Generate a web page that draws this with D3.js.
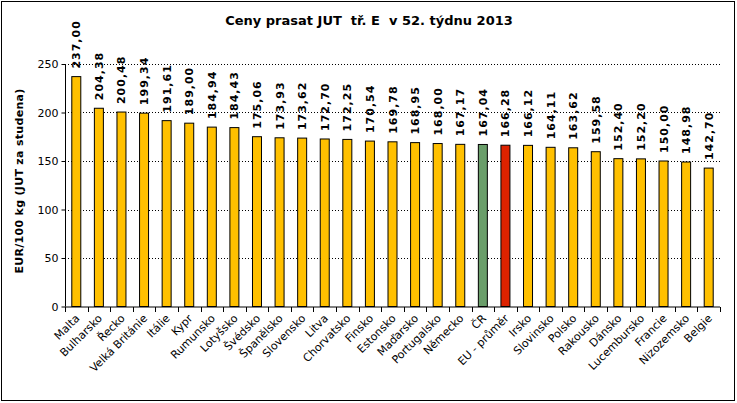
<!DOCTYPE html>
<html><head><meta charset="utf-8">
<script src="https://cdn.jsdelivr.net/npm/d3@7"></script>
<style>body{margin:0;background:#fff}svg{display:block}</style>
</head><body>
<svg id="c" width="737" height="403"></svg>
<script>
const categories = ["Malta","Bulharsko","Řecko","Velká Británie","Itálie","Kypr","Rumunsko","Lotyšsko","Švédsko","Španělsko","Slovensko","Litva","Chorvatsko","Finsko","Estonsko","Maďarsko","Portugalsko","Německo","ČR","EU - průměr","Irsko","Slovinsko","Polsko","Rakousko","Dánsko","Lucembursko","Francie","Nizozemsko","Belgie"];
const values = [237.00,204.38,200.48,199.34,191.61,189.00,184.94,184.43,175.06,173.93,173.62,172.70,172.25,170.54,169.78,168.95,168.00,167.17,167.04,166.28,166.12,164.11,163.62,159.58,152.40,152.20,150.00,148.98,142.70];
const yTicks = [0,50,100,150,200,250];
const title = "Ceny prasat JUT  tř. E  v 52. týdnu 2013";
const yLabel = "EUR/100 kg (JUT za studena)";

(function(){
const svg = d3.select("#c");
const font = "Verdana, 'DejaVu Sans', sans-serif";
svg.append("rect").attr("x",1.5).attr("y",1.5).attr("width",733).attr("height",399).attr("fill","#fff").attr("stroke","#000").attr("stroke-width",1);

const pL = 65, pR = 720, pT = 64, pB = 306.5;
const x = d3.scaleBand().domain(categories).range([pL,pR]).paddingInner(0).paddingOuter(0);
const y = d3.scaleLinear().domain([0,250]).range([pB,pT]);

svg.append("g").selectAll("line").data(yTicks.filter(d=>d>0)).join("line")
  .attr("x1",pL).attr("x2",pR).attr("y1",d=>Math.round(y(d))+0.5).attr("y2",d=>Math.round(y(d))+0.5)
  .attr("stroke","#000").attr("stroke-dasharray","1,2");

const colorOf = c => c==="ČR" ? "#6a9e6a" : (c==="EU - průměr" ? "#dd2200" : "#ffc000");
const bw = 9;
svg.append("g").selectAll("rect").data(categories).join("rect")
  .attr("x",(d)=>x(d)+x.bandwidth()/2-bw/2)
  .attr("y",(d,i)=>y(values[i]))
  .attr("width",bw)
  .attr("height",(d,i)=>pB-y(values[i]))
  .attr("fill",colorOf).attr("stroke","#000").attr("stroke-width",1);

svg.append("g").selectAll("text").data(categories).join("text")
  .attr("transform",(d,i)=>`translate(${x(d)+x.bandwidth()/2+4},${y(values[i])-8}) rotate(-90)`)
  .attr("font-family",font).attr("font-size",11).attr("font-weight","bold").attr("letter-spacing",1)
  .text((d,i)=>values[i].toFixed(2).replace(".",","));

const ya = svg.append("g").attr("transform",`translate(${pL+0.5},0)`)
  .call(d3.axisLeft(y).tickValues(yTicks).tickSize(4).tickPadding(3));
ya.select(".domain").attr("d",`M0,${pT}V${pB}`);
ya.selectAll("text").attr("font-family",font).attr("font-size",11).attr("fill","#000");

const xa = svg.append("g").attr("transform",`translate(0,${pB+0.5})`);
xa.append("line").attr("x1",pL).attr("x2",pR).attr("stroke","#000");
const bounds = categories.map(c=>x(c)).concat([pR]);
xa.selectAll("line.t").data(bounds).join("line").attr("class","t")
  .attr("x1",d=>Math.round(d)+0.5).attr("x2",d=>Math.round(d)+0.5).attr("y1",0).attr("y2",5).attr("stroke","#000");
xa.selectAll("text").data(categories).join("text")
  .attr("transform",d=>`translate(${x(d)+x.bandwidth()/2+4},${12}) rotate(-45)`)
  .attr("text-anchor","end").attr("font-family",font).attr("font-size",11).attr("fill","#000")
  .text(d=>d);

svg.append("text").attr("x",369).attr("y",25).attr("text-anchor","middle").attr("xml:space","preserve")
  .style("white-space","pre")
  .attr("font-family",font).attr("font-size",13).attr("font-weight","bold").text(title);
svg.append("text").attr("transform",`translate(23,181) rotate(-90)`).attr("text-anchor","middle")
  .attr("font-family",font).attr("font-size",11).attr("font-weight","bold").attr("letter-spacing",0.3).text(yLabel);
})();
</script>
</body></html>
